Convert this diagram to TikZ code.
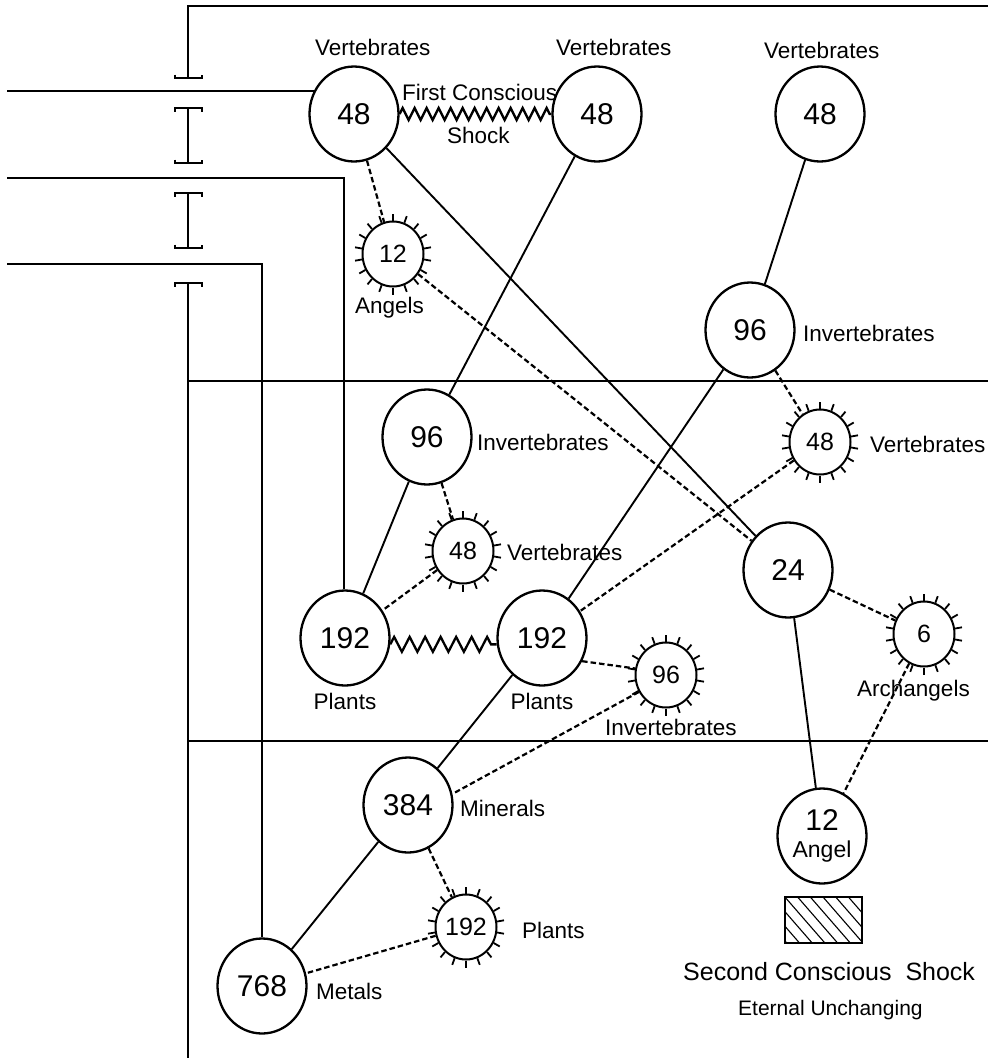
\documentclass[tikz,border=0pt]{standalone}
\usepackage{fontspec}
\setmainfont{Liberation Sans}
\usetikzlibrary{shapes.geometric,decorations.pathmorphing,calc}
\begin{document}
\begin{tikzpicture}[x=1pt,y=-1pt,
  big/.style={ellipse,draw,line width=2.3pt,inner sep=0pt,minimum width=89pt,minimum height=95pt,font=\fontsize{30}{30}\selectfont},
  small/.style={ellipse,draw,line width=2pt,inner sep=0pt,minimum width=61pt,minimum height=65pt,font=\fontsize{25}{25}\selectfont},
  lbl/.style={inner sep=0pt,font=\fontsize{22.5}{24}\selectfont},
  frame/.style={line width=2.3pt},
  conn/.style={line width=1.9pt},
  dconn/.style={line width=2.2pt,dash pattern=on 5.5pt off 3pt},
  zz/.style={line width=2.3pt,decorate,decoration={zigzag,segment length=12pt,amplitude=6pt}},
  tickmark/.style={line width=1.8pt},
  bar/.style={line width=2.3pt}
]
\useasboundingbox (0,0) rectangle (988,1061);

% ---------- frame lines ----------
\coordinate (T0) at (988,6);
\coordinate (T1) at (188,6);
\coordinate (T2) at (188,78);
\draw[frame] (T0) -- (T1) -- (T2);
\draw[frame] (188,108) -- (188,163);
\draw[frame] (188,193) -- (188,248);
\coordinate (B0) at (188,283);
\coordinate (B1) at (188,1058);
\draw[frame] (B0) -- (B1);
% bars
\draw[bar] (175,74.5) -- (175,78) -- (202,78) -- (202,74.5);
\draw[bar] (175,111.5) -- (175,108) -- (202,108) -- (202,111.5);
\draw[bar] (175,159.5) -- (175,163) -- (202,163) -- (202,159.5);
\draw[bar] (175,196.5) -- (175,193) -- (202,193) -- (202,196.5);
\draw[bar] (175,244.5) -- (175,248) -- (202,248) -- (202,244.5);
\draw[bar] (175,286.5) -- (175,283) -- (202,283) -- (202,286.5);

\coordinate (H1a) at (188,381);
\coordinate (H1b) at (988,381);
\draw[frame] (H1a) -- (H1b);
\coordinate (H2a) at (188,741);
\coordinate (H2b) at (988,741);
\draw[frame] (H2a) -- (H2b);

% ---------- big ellipses ----------
\node[big] (V1) at (354,114) {48};
\node[big] (V2) at (597,114) {48};
\node[big] (V3) at (820,114) {48};
\node[big] (I1) at (750,330) {96};
\node[big] (I2) at (427,437) {96};
\node[big] (P1) at (345,638) {192};
\node[big] (P2) at (542,638) {192};
\node[big] (N24) at (788,570) {24};
\node[big] (M1) at (408,805) {384};
\node[big] (M2) at (262,986) {768};
\node[big] (A12) at (822,836) {};
\node[inner sep=0pt,anchor=base,font=\fontsize{30}{30}\selectfont] (A12n) at (822,830) {12};
\node[inner sep=0pt,anchor=base,font=\fontsize{23}{23}\selectfont] (A12t) at (822,857) {Angel};

% ---------- small ticked ellipses ----------
\node[small] (S1) at (393,254) {12};
\node[small] (S2) at (820,442) {48};
\node[small] (S3) at (463,551) {48};
\node[small] (S4) at (666,675) {96};
\node[small] (S5) at (924,634) {6};
\node[small] (S6) at (466,927) {192};
\foreach \n in {S1,S2,S3,S4,S5,S6}{
  \foreach \a in {10,30,...,350}{
    \draw[tickmark] (\n.\a) -- ($(\n.\a)!-7pt!(\n.center)$);
  }
}

% ---------- left feeder lines ----------
\coordinate (L1a) at (7,91);
\draw[frame] (L1a) -- (L1a -| V1.150);
\coordinate (L2a) at (7,178);
\coordinate (L2b) at (344,178);
\draw[frame] (L2a) -- (L2b) -- (L2b |- P1.north);
\coordinate (L3a) at (7,264);
\coordinate (L3b) at (262,264);
\draw[frame] (L3a) -- (L3b) -- (L3b |- M2.north);

% ---------- zigzags ----------
\draw[zz] (V1) -- (V2);
\draw[line width=2.3pt,decorate,decoration={zigzag,segment length=15.5pt,amplitude=7.5pt}] (P1.-8) -- (P2.188);

% ---------- solid connectors ----------
\draw[conn] (V1) -- (N24);
\draw[conn] (V2) -- (I2);
\draw[conn] (V3) -- (I1);
\draw[conn] (I1) -- (P2);
\draw[conn] (I2) -- (P1);
\draw[conn] (P2) -- (M1);
\draw[conn] (M1) -- (M2);
\draw[conn] (N24) -- (A12);

% ---------- dashed connectors ----------
\draw[dconn] (V1) -- (S1);
\draw[dconn] (S1) -- (N24);
\draw[dconn] (I1) -- (S2);
\draw[dconn] (S2) -- (P2);
\draw[dconn] (I2) -- (S3);
\draw[dconn] (S3) -- (P1);
\draw[dconn] (P2.-30) -- (S4.168);
\draw[dconn] (S4.212) -- (M1.14);
\draw[dconn] (N24) -- (S5);
\draw[dconn] (S5) -- (A12);
\draw[dconn] (M1) -- (S6);
\draw[dconn] (S6) -- (M2);

% ---------- labels ----------
\node[lbl,anchor=base west] (tV1) at (315,55) {Vertebrates};
\node[lbl,anchor=base west] (tV2) at (556,55) {Vertebrates};
\node[lbl,anchor=base west] (tV3) at (764,58) {Vertebrates};
\node[lbl,anchor=base west] (tFC) at (402,100) {First Conscious};
\node[lbl,anchor=base west] (tSh) at (447,143) {Shock};
\node[lbl,anchor=base west] (tAn) at (355,313) {Angels};
\node[lbl,anchor=base west] (tI1) at (803,341) {Invertebrates};
\node[lbl,anchor=base west] (tV4) at (870,452) {Vertebrates};
\node[lbl,anchor=base west] (tI2) at (477,450) {Invertebrates};
\node[lbl,anchor=base west] (tV5) at (507,560) {Vertebrates};
\node[lbl,anchor=base] (tP1) at (345,709) {Plants};
\node[lbl,anchor=base] (tP2) at (542,709) {Plants};
\node[lbl,anchor=base west] (tI3) at (605,735) {Invertebrates};
\node[lbl,anchor=base west] (tAr) at (857,696) {Archangels};
\node[lbl,anchor=base west] (tMi) at (460,816) {Minerals};
\node[lbl,anchor=base west] (tP3) at (522,938) {Plants};
\node[lbl,anchor=base west] (tMe) at (316,999) {Metals};

% ---------- second conscious shock legend ----------
\node[draw,line width=1.4pt,inner sep=0pt,minimum width=77pt,minimum height=46pt] (hatch) at (823.5,920) {};
\begin{scope}
  \clip (hatch.north west) rectangle (hatch.south east);
  \foreach \i in {-4,...,6}{
    \draw[line width=1.1pt] ($(hatch.north west)+(\i*12.7,0)$) -- ++(40,46);
  }
\end{scope}
\node[inner sep=0pt,anchor=base west,font=\fontsize{25}{25}\selectfont] (tSCS) at (683,980) {Second Conscious\ \ Shock};
\node[inner sep=0pt,anchor=base west,font=\fontsize{21}{22}\selectfont] (tEU) at (738,1015) {Eternal Unchanging};
\end{tikzpicture}
\end{document}
